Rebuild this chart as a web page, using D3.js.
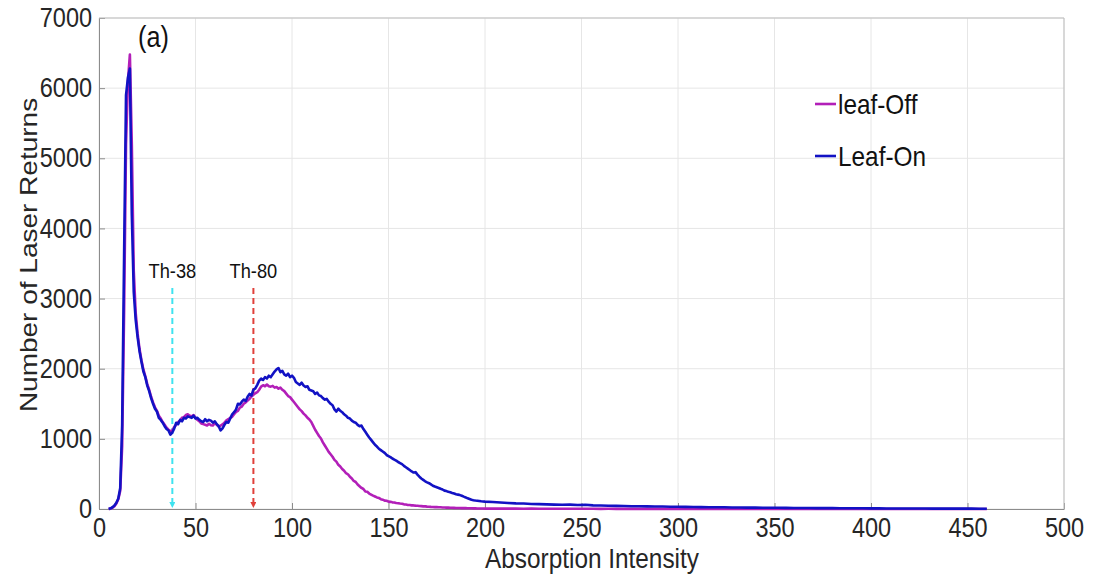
<!DOCTYPE html>
<html>
<head>
<meta charset="utf-8">
<script src="https://cdn.jsdelivr.net/npm/d3@7"></script>
<style>
  html, body { margin: 0; padding: 0; background: #fff; }
  svg { display: block; font-family: "Liberation Sans", Arial, sans-serif; }
</style>
</head>
<body>
<svg id="chart" width="1093" height="578"></svg>
<script>
// Histogram bins: unit bins up to 200, then every 4th bin of the long tail
const intensity = d3.range(5, 201).concat(d3.range(204, 461, 4));

// Leaf-off returns per bin (5..200, then tail 204..460)
const leafOff = [
  0, 5, 20, 40, 80, 140, 260, 900, 2800, 5200, 6100, 6480, 5200, 3400, 2800, 2500,
  2280, 2120, 1990, 1890, 1780, 1700, 1600, 1520, 1450, 1400, 1330, 1290, 1240, 1200,
  1160, 1130, 1110, 1120, 1170, 1200, 1240, 1260, 1300, 1310, 1340, 1350, 1330, 1320,
  1340, 1300, 1270, 1250, 1220, 1210, 1200, 1190, 1215, 1195, 1190, 1225, 1200, 1175,
  1190, 1205, 1230, 1265, 1280, 1300, 1315, 1350, 1385, 1400, 1445, 1460, 1500, 1520,
  1545, 1570, 1605, 1630, 1650, 1665, 1700, 1745, 1765, 1750, 1775, 1750, 1745, 1755,
  1730, 1740, 1715, 1730, 1700, 1680, 1645, 1610, 1595, 1560, 1525, 1490, 1455, 1420,
  1395, 1360, 1335, 1300, 1275, 1240, 1185, 1130, 1085, 1040, 1005, 950, 905, 860,
  815, 780, 745, 700, 675, 630, 605, 570, 545, 510, 495, 460, 435, 400, 385, 350,
  325, 300, 285, 250, 245, 220, 205, 190, 178, 165, 158, 140, 133, 120, 117, 105,
  102, 95, 92, 85, 83, 78, 74, 66, 64, 58, 56, 52, 51, 48, 46, 43,
  41, 38, 37, 34, 33, 30, 29, 27, 27, 25, 24, 22, 22, 20, 19, 18,
  17, 16, 15, 15, 14, 13, 12, 12, 11, 10, 10, 9, 9, 8, 8, 7, 7, 6,
  // tail 204..460
  6, 5, 6, 5, 4, 5, 4, 4, 3, 4, 3, 3, 3, 3, 2, 3, 2, 2, 2, 2, 2, 2, 2, 1, 2, 1, 1, 1,
  1, 1, 1, 1, 1, 1, 1, 1, 1, 1, 1, 1, 1, 1, 1, 1, 1, 1, 1, 1, 1, 1, 1, 1, 1, 1, 1, 1,
  1, 1, 1, 1, 1, 1, 1, 1, 1
];

// Leaf-on returns per bin (5..200, then tail 204..460)
const leafOn = [
  0, 10, 25, 50, 90, 150, 300, 1200, 3600, 5900, 6150, 6280, 4200, 3100, 2700, 2450,
  2250, 2100, 1960, 1880, 1760, 1680, 1580, 1500, 1430, 1390, 1300, 1270, 1230, 1180,
  1140, 1120, 1060, 1090, 1150, 1230, 1210, 1270, 1250, 1300, 1290, 1320, 1310, 1300,
  1330, 1290, 1300, 1270, 1250, 1240, 1280, 1250, 1270, 1260, 1230, 1250, 1210, 1180,
  1120, 1150, 1200, 1240, 1230, 1290, 1350, 1380, 1420, 1500, 1490, 1530, 1560, 1540,
  1600, 1640, 1620, 1700, 1720, 1770, 1830, 1860, 1840, 1880, 1860, 1900, 1880, 1920,
  1960, 1990, 2010, 1950, 1970, 1920, 1900, 1930, 1880, 1900, 1870, 1810, 1790, 1770,
  1800, 1760, 1740, 1750, 1700, 1690, 1680, 1640, 1660, 1620, 1610, 1580, 1560, 1570,
  1530, 1500, 1480, 1420, 1390, 1430, 1400, 1380, 1350, 1330, 1300, 1290, 1260, 1240,
  1230, 1200, 1180, 1190, 1140, 1100, 1060, 1020, 985, 950, 915, 890, 860, 840, 820, 800,
  770, 755, 740, 720, 705, 690, 670, 655, 640, 615, 595, 575, 555, 535, 520, 525,
  490, 460, 435, 415, 395, 380, 368, 350, 332, 320, 310, 300, 288, 278, 262, 255,
  245, 238, 228, 220, 210, 205, 198, 188, 176, 165, 152, 142, 132, 126, 121, 118, 114, 110, 108, 105,
  // tail 204..460
  100, 92, 85, 80, 78, 72, 70, 66, 63, 60, 62, 58, 60, 52, 50, 47, 45, 43, 40, 40,
  38, 36, 35, 33, 32, 30, 28, 27, 26, 25, 24, 22, 21, 20, 19, 18, 17, 17, 16, 15,
  14, 14, 13, 12, 12, 11, 11, 10, 10, 9, 9, 8, 8, 8, 7, 7, 7, 6, 6, 6,
  5, 5, 5, 4, 4
];

const xTicks = [0, 50, 100, 150, 200, 250, 300, 350, 400, 450, 500];
const yTicks = [0, 1000, 2000, 3000, 4000, 5000, 6000, 7000];

// Threshold markers: intensity and the return count where the arrow starts
const thresholds = [
  { name: "Th-38", value: 38, top: 3150, color: "#3fe3f0" },
  { name: "Th-80", value: 80, top: 3150, color: "#e0403a" }
];

const seriesNames = ["leaf-Off", "Leaf-On"];
const seriesColors = ["#b21fb8", "#1212c4"];

const svg = d3.select("#chart");
const margin = { left: 99, right: 29, top: 18, bottom: 69 };
const W = 1093, H = 578;
const SX = 0.87; // narrow glyph width used by all text
const x = d3.scaleLinear().domain([0, 500]).range([margin.left, W - margin.right]);
const y = d3.scaleLinear().domain([0, 7000]).range([H - margin.bottom, margin.top]);

// horizontal text with narrowed glyphs
function label(px, py, str, size, anchor, fill) {
  return svg.append("text")
    .attr("transform", `translate(${px},${py}) scale(${SX},1)`)
    .attr("text-anchor", anchor || "start")
    .attr("font-size", size).attr("fill", fill || "#111")
    .text(str);
}

// grid
const grid = svg.append("g");
grid.selectAll("line.gx").data(xTicks).join("line")
  .attr("x1", d => x(d)).attr("x2", d => x(d))
  .attr("y1", y(0)).attr("y2", y(7000))
  .attr("stroke", "#e6e6e6").attr("stroke-width", 1);
grid.selectAll("line.gy").data(yTicks).join("line")
  .attr("x1", x(0)).attr("x2", x(500))
  .attr("y1", d => y(d)).attr("y2", d => y(d))
  .attr("stroke", "#e6e6e6").attr("stroke-width", 1);

// axes with inward ticks
const fmt = d3.format("d");
const xAxis = svg.append("g").attr("transform", `translate(0,${y(0)})`)
  .call(d3.axisBottom(x).tickValues(xTicks).tickFormat(fmt).tickSizeInner(-6).tickSizeOuter(0).tickPadding(9));
const yAxis = svg.append("g").attr("transform", `translate(${x(0)},0)`)
  .call(d3.axisLeft(y).tickValues(yTicks).tickFormat(fmt).tickSizeInner(-6).tickSizeOuter(0).tickPadding(7));
[xAxis, yAxis].forEach(a => {
  a.select(".domain").attr("stroke", "#8c8c8c");
  a.selectAll(".tick line").attr("stroke", "#8c8c8c");
  a.selectAll(".tick text").attr("fill", "#262626").attr("font-size", 27)
    .attr("font-family", "'Liberation Sans', Arial, sans-serif");
});
yAxis.selectAll(".tick text").attr("x", -7 / SX).attr("transform", `scale(${SX},1)`);
xAxis.selectAll(".tick text").attr("transform", `scale(${SX},1)`);

// top and right frame
svg.append("line").attr("x1", x(0)).attr("x2", x(500)).attr("y1", y(7000)).attr("y2", y(7000))
  .attr("stroke", "#bdbdbd");
svg.append("line").attr("x1", x(500)).attr("x2", x(500)).attr("y1", y(0)).attr("y2", y(7000))
  .attr("stroke", "#bdbdbd");

// axis titles
label(592, 568, "Absorption Intensity", 28, "middle", "#262626");
svg.append("text")
  .attr("transform", `translate(37,255) rotate(-90) scale(1,${SX})`)
  .attr("text-anchor", "middle").attr("font-size", 28).attr("fill", "#262626")
  .text("Number of Laser Returns");

// panel label
label(138, 47, "(a)", 29);

// threshold arrows
const defs = svg.append("defs");
thresholds.forEach((t, i) => {
  defs.append("marker").attr("id", "arrow" + i)
    .attr("viewBox", "0 0 10 10").attr("refX", 10).attr("refY", 5)
    .attr("markerWidth", 3).attr("markerHeight", 3).attr("orient", "auto")
    .append("path").attr("d", "M0,0 L10,5 L0,10 Z").attr("fill", t.color);
  svg.append("line")
    .attr("x1", x(t.value)).attr("x2", x(t.value))
    .attr("y1", y(t.top)).attr("y2", y(0) - 1)
    .attr("stroke", t.color).attr("stroke-width", 2).attr("stroke-dasharray", "6,4")
    .attr("marker-end", `url(#arrow${i})`);
  label(x(t.value), y(t.top) - 10, t.name, 21, "middle");
});

// series lines
const line = d3.line().x(d => x(d[0])).y(d => y(d[1]));
[leafOff, leafOn].forEach((vals, i) => {
  svg.append("path")
    .datum(intensity.map((v, k) => [v, vals[k]]))
    .attr("fill", "none").attr("stroke", seriesColors[i])
    .attr("stroke-width", 2.6).attr("stroke-linejoin", "round")
    .attr("d", line);
});

// legend
seriesNames.forEach((name, i) => {
  const ly = 104 + i * 52;
  svg.append("line").attr("x1", 815).attr("x2", 836).attr("y1", ly).attr("y2", ly)
    .attr("stroke", seriesColors[i]).attr("stroke-width", 2.6);
  label(838, ly + 10, name, 28);
});
</script>
</body>
</html>
